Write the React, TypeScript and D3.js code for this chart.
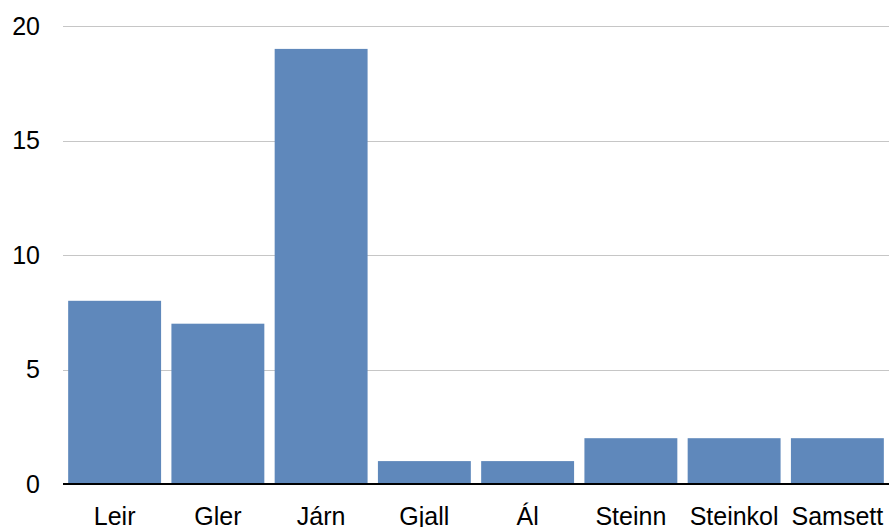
import React, { useEffect, useRef } from 'react';
import * as d3 from 'd3';

const categories = ['Leir', 'Gler', 'Járn', 'Gjall', 'Ál', 'Steinn', 'Steinkol', 'Samsett'];
const values = [8, 7, 19, 1, 1, 2, 2, 2];
const yTicks = [0, 5, 10, 15, 20];

const App = () => {
  const svgRef = useRef<SVGSVGElement>(null);

  useEffect(() => {
    const width = 889;
    const height = 527;
    const margin = { top: 26, right: 0, bottom: 43, left: 63 };

    d3.select(svgRef.current).selectAll('*').remove();

    const svg = d3.select(svgRef.current)
      .attr('width', width)
      .attr('height', height)
      .style('display', 'block')
      .style('font-family', 'Arial, "Liberation Sans", sans-serif');

    const x = d3.scaleBand()
      .domain(categories)
      .range([margin.left, width - margin.right])
      .paddingInner(0.1)
      .paddingOuter(0.05);

    const y = d3.scaleLinear()
      .domain([0, 20])
      .range([height - margin.bottom, margin.top]);

    // gridlines
    svg.append('g')
      .selectAll('line')
      .data(yTicks.filter(d => d > 0))
      .join('line')
      .attr('x1', margin.left)
      .attr('x2', width - margin.right)
      .attr('y1', d => Math.round(y(d)) + 0.5)
      .attr('y2', d => Math.round(y(d)) + 0.5)
      .attr('stroke', '#c6c6c6')
      .attr('stroke-width', 1);

    // y labels
    svg.append('g')
      .selectAll('text')
      .data(yTicks)
      .join('text')
      .attr('x', 40)
      .attr('y', d => y(d))
      .attr('dy', '0.35em')
      .attr('text-anchor', 'end')
      .style('font-size', '25px')
      .style('fill', '#000')
      .text(d => d);

    // bars
    svg.append('g')
      .selectAll('rect')
      .data(values)
      .join('rect')
      .attr('x', (d, i) => x(categories[i])!)
      .attr('y', d => y(d))
      .attr('width', x.bandwidth())
      .attr('height', d => y(0) - y(d))
      .attr('fill', '#5f88bb');

    // zero axis line
    svg.append('line')
      .attr('x1', margin.left)
      .attr('x2', width - margin.right)
      .attr('y1', y(0))
      .attr('y2', y(0))
      .attr('stroke', '#000')
      .attr('stroke-width', 2);

    // x labels
    svg.append('g')
      .selectAll('text')
      .data(categories)
      .join('text')
      .attr('x', d => x(d)! + x.bandwidth() / 2)
      .attr('y', 525)
      .attr('text-anchor', 'middle')
      .style('font-size', '25px')
      .style('fill', '#000')
      .text(d => d);
  }, []);

  return (
    <div style={{ position: 'fixed', top: 0, left: 0, width: 889, height: 527, overflow: 'hidden', background: '#fff' }}>
      <svg ref={svgRef}></svg>
    </div>
  );
};

export default App;
